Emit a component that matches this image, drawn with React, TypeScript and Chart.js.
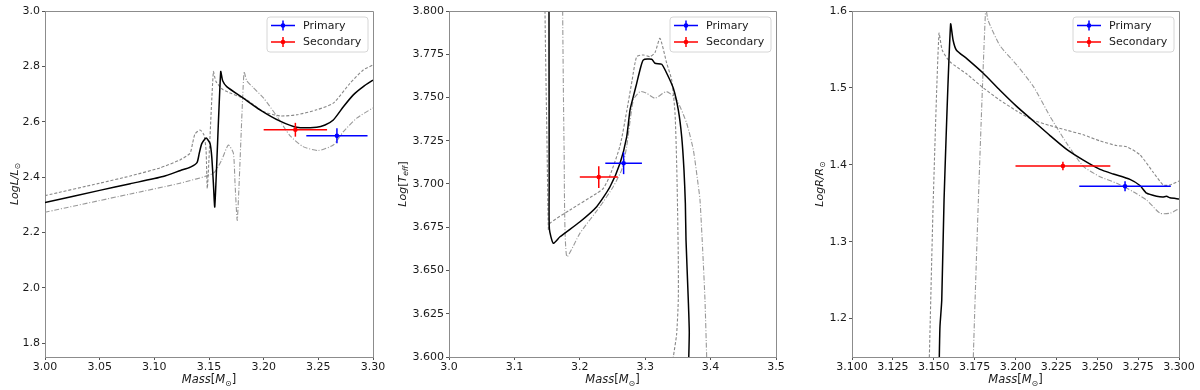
import React, { useEffect, useRef } from "react";
import { Chart, registerables } from "chart.js";

Chart.register(...registerables);

// ---------- observed stars ----------
const STAR_NAMES = ["Primary", "Secondary"];
const STAR_COLORS = ["#0000ff", "#ff0000"];
const STAR_MASS = [3.267, 3.229];
const STAR_MASS_ERR = [0.028, 0.029];
const STAR_LOGL = [2.549, 2.571];
const STAR_LOGL_ERR = [0.027, 0.025];
const STAR_LOGT = [3.712, 3.704];
const STAR_LOGT_ERR = [0.0063, 0.0063];
const STAR_LOGR = [1.372, 1.3985];
const STAR_LOGR_ERR = [0.0065, 0.0055];

// ---------- panel 1: log L ----------
const P1_SOLID_M = [3.0, 3.05, 3.078, 3.108, 3.124, 3.133, 3.139, 3.1411, 3.1433, 3.1473, 3.1509, 3.1525, 3.154, 3.1553, 3.1607, 3.1625, 3.1662, 3.1814, 3.1966, 3.215, 3.2302, 3.2485, 3.2561, 3.2637, 3.2729, 3.282, 3.2911, 3.3];
const P1_SOLID_L = [2.308, 2.352, 2.376, 2.402, 2.424, 2.436, 2.452, 2.486, 2.52, 2.541, 2.522, 2.474, 2.378, 2.293, 2.781, 2.748, 2.727, 2.685, 2.643, 2.602, 2.58, 2.58, 2.588, 2.606, 2.654, 2.697, 2.727, 2.75];
const P1_DASH_M = [3.0, 3.05, 3.078, 3.105, 3.1235, 3.1326, 3.135, 3.1372, 3.1418, 3.1454, 3.1473, 3.1485, 3.154, 3.1564, 3.1631, 3.1845, 3.1997, 3.215, 3.2302, 3.2485, 3.2637, 3.279, 3.2911, 3.3];
const P1_DASH_L = [2.333, 2.378, 2.404, 2.433, 2.462, 2.486, 2.522, 2.556, 2.57, 2.552, 2.498, 2.36, 2.781, 2.745, 2.715, 2.679, 2.637, 2.621, 2.625, 2.643, 2.667, 2.739, 2.787, 2.805];
const P1_DOT_M = [3.0, 3.078, 3.1235, 3.154, 3.1616, 3.1677, 3.1723, 3.1738, 3.1759, 3.182, 3.1845, 3.19, 3.2, 3.212, 3.224, 3.236, 3.25, 3.2637, 3.2729, 3.2851, 3.3];
const P1_DOT_L = [2.273, 2.339, 2.378, 2.414, 2.462, 2.516, 2.486, 2.378, 2.245, 2.781, 2.748, 2.725, 2.685, 2.62, 2.55, 2.51, 2.496, 2.516, 2.564, 2.613, 2.65];

// ---------- panel 2: log Teff ----------
const P2_SOLID_M = [3.1529, 3.1529, 3.1532, 3.1535, 3.1595, 3.1697, 3.2003, 3.2258, 3.2462, 3.2615, 3.2717, 3.2768, 3.2818, 3.287, 3.292, 3.2971, 3.31, 3.315, 3.3252, 3.3329, 3.343, 3.3506, 3.3558, 3.3593, 3.3614, 3.3624, 3.3659, 3.3674, 3.3659];
const P2_SOLID_T = [3.85, 3.8, 3.7, 3.674, 3.6657, 3.6695, 3.6782, 3.6869, 3.6984, 3.712, 3.7273, 3.7428, 3.7505, 3.7582, 3.7659, 3.7717, 3.7721, 3.7698, 3.7692, 3.764, 3.7553, 3.7428, 3.7273, 3.7081, 3.6888, 3.6676, 3.633, 3.614, 3.59];
const P2_DASH_M = [3.1468, 3.1468, 3.15, 3.152, 3.1544, 3.185, 3.2258, 3.236, 3.2462, 3.2615, 3.2717, 3.28, 3.287, 3.2971, 3.3073, 3.315, 3.3226, 3.3329, 3.3405, 3.3456, 3.3481, 3.3496, 3.3506, 3.3506, 3.348, 3.343, 3.34];
const P2_DASH_T = [3.85, 3.8, 3.72, 3.6734, 3.6773, 3.685, 3.6946, 3.6975, 3.705, 3.722, 3.742, 3.76, 3.7736, 3.7746, 3.7736, 3.776, 3.7842, 3.7698, 3.7601, 3.7409, 3.712, 3.6831, 3.656, 3.633, 3.613, 3.6, 3.59];
const P2_DOT_M = [3.1738, 3.1738, 3.176, 3.1799, 3.2003, 3.2309, 3.2513, 3.264, 3.2717, 3.2819, 3.2921, 3.3023, 3.315, 3.3328, 3.3481, 3.3634, 3.3736, 3.3813, 3.3838, 3.3879, 3.3914, 3.394, 3.395];
const P2_DOT_T = [3.85, 3.8, 3.72, 3.6581, 3.6716, 3.687, 3.6986, 3.7082, 3.7217, 3.7486, 3.7534, 3.7524, 3.7496, 3.7534, 3.7486, 3.7351, 3.7197, 3.6986, 3.6908, 3.6618, 3.633, 3.6, 3.59];

// ---------- panel 3: log R ----------
const P3_SOLID_M = [3.153, 3.1534, 3.1538, 3.1549, 3.1563, 3.1603, 3.1618, 3.1638, 3.1702, 3.1803, 3.1905, 3.2007, 3.2109, 3.2211, 3.2313, 3.2415, 3.2517, 3.2598, 3.27, 3.2761, 3.2802, 3.2863, 3.29, 3.2924, 3.2945, 3.3];
const P3_SOLID_R = [1.1, 1.15, 1.1894, 1.2241, 1.3542, 1.583, 1.5623, 1.5493, 1.538, 1.519, 1.497, 1.476, 1.457, 1.438, 1.42, 1.406, 1.394, 1.388, 1.381, 1.373, 1.363, 1.359, 1.358, 1.359, 1.357, 1.3555];
const P3_DASH_M = [3.1465, 3.1473, 3.1497, 3.1532, 3.1552, 3.1599, 3.1702, 3.1803, 3.1905, 3.2007, 3.2109, 3.2211, 3.2313, 3.2415, 3.2517, 3.2617, 3.268, 3.2761, 3.2843, 3.2904, 3.2945, 3.3];
const P3_DASH_R = [1.1, 1.15, 1.3542, 1.571, 1.549, 1.534, 1.518, 1.5, 1.484, 1.47, 1.458, 1.451, 1.445, 1.439, 1.431, 1.425, 1.4235, 1.413, 1.39, 1.3737, 1.3737, 1.379];
const P3_DOT_M = [3.1738, 3.1742, 3.1773, 3.1818, 3.1832, 3.1905, 3.2007, 3.2109, 3.2211, 3.2313, 3.2415, 3.2517, 3.2619, 3.272, 3.2802, 3.2884, 3.2945, 3.3];
const P3_DOT_R = [1.1, 1.15, 1.3542, 1.605, 1.588, 1.555, 1.53, 1.502, 1.463, 1.428, 1.398, 1.3845, 1.376, 1.365, 1.354, 1.337, 1.337, 1.343];

// ---------- ticks ----------
const P1_X_TICKS = [3.0, 3.05, 3.1, 3.15, 3.2, 3.25, 3.3];
const P1_Y_TICKS = [1.8, 2.0, 2.2, 2.4, 2.6, 2.8, 3.0];
const P2_X_TICKS = [3.0, 3.1, 3.2, 3.3, 3.4, 3.5];
const P2_Y_TICKS = [3.6, 3.625, 3.65, 3.675, 3.7, 3.725, 3.75, 3.775, 3.8];
const P3_X_TICKS = [3.1, 3.125, 3.15, 3.175, 3.2, 3.225, 3.25, 3.275, 3.3];
const P3_Y_TICKS = [1.2, 1.3, 1.4, 1.5, 1.6];

type Seg = { t: string; it?: boolean; sub?: boolean };

const X_LABEL: Seg[] = [{ t: "Mass", it: true }, { t: "[" }, { t: "M", it: true }, { t: "\u2299", sub: true }, { t: "]" }];
const P1_Y_LABEL: Seg[] = [{ t: "LogL/L", it: true }, { t: "\u2299", sub: true }];
const P2_Y_LABEL: Seg[] = [{ t: "Log", it: true }, { t: "[" }, { t: "T", it: true }, { t: "eff", it: true, sub: true }, { t: "]" }];
const P3_Y_LABEL: Seg[] = [{ t: "LogR/R", it: true }, { t: "\u2299", sub: true }];

const FONT = '"DejaVu Sans", sans-serif';

function drawSegs(ctx: CanvasRenderingContext2D, segs: Seg[], x: number, y: number, size: number) {
  const fontOf = (s: Seg) => `${s.it ? "italic " : ""}${s.sub ? size * 0.7 : size}px ${FONT}`;
  let total = 0;
  const widths = segs.map((s) => {
    ctx.font = fontOf(s);
    const w = ctx.measureText(s.t).width;
    total += w;
    return w;
  });
  let cx = x - total / 2;
  ctx.textAlign = "left";
  ctx.textBaseline = "alphabetic";
  segs.forEach((s, i) => {
    ctx.font = fontOf(s);
    ctx.fillText(s.t, cx, y + (s.sub ? size * 0.22 : 0));
    cx += widths[i];
  });
}

type PanelCfg = {
  left: number;
  width: number;
  yAxisW: number;
  rightPad: number;
  yTitleX: number;
  xMin: number;
  xMax: number;
  yMin: number;
  yMax: number;
  xTicks: number[];
  yTicks: number[];
  xDec: number;
  yDec: number;
  yLabel: Seg[];
  curves: { m: number[]; v: number[]; style: "solid" | "dash" | "dot" }[];
  starY: number[];
  starYErr: number[];
};

const PANELS: PanelCfg[] = [
  {
    left: 0, width: 390, yAxisW: 45, rightPad: 17, yTitleX: 18,
    xMin: 3.0, xMax: 3.3, yMin: 1.75, yMax: 3.0,
    xTicks: P1_X_TICKS, yTicks: P1_Y_TICKS, xDec: 2, yDec: 1, yLabel: P1_Y_LABEL,
    curves: [
      { m: P1_SOLID_M, v: P1_SOLID_L, style: "solid" },
      { m: P1_DASH_M, v: P1_DASH_L, style: "dash" },
      { m: P1_DOT_M, v: P1_DOT_L, style: "dot" },
    ],
    starY: STAR_LOGL, starYErr: STAR_LOGL_ERR,
  },
  {
    left: 390, width: 405, yAxisW: 59, rightPad: 19, yTitleX: 16,
    xMin: 3.0, xMax: 3.5, yMin: 3.6, yMax: 3.8,
    xTicks: P2_X_TICKS, yTicks: P2_Y_TICKS, xDec: 1, yDec: 3, yLabel: P2_Y_LABEL,
    curves: [
      { m: P2_SOLID_M, v: P2_SOLID_T, style: "solid" },
      { m: P2_DASH_M, v: P2_DASH_T, style: "dash" },
      { m: P2_DOT_M, v: P2_DOT_T, style: "dot" },
    ],
    starY: STAR_LOGT, starYErr: STAR_LOGT_ERR,
  },
  {
    left: 795, width: 405, yAxisW: 57, rightPad: 21, yTitleX: 28,
    xMin: 3.1, xMax: 3.3, yMin: 1.15, yMax: 1.6,
    xTicks: P3_X_TICKS, yTicks: P3_Y_TICKS, xDec: 3, yDec: 1, yLabel: P3_Y_LABEL,
    curves: [
      { m: P3_SOLID_M, v: P3_SOLID_R, style: "solid" },
      { m: P3_DASH_M, v: P3_DASH_R, style: "dash" },
      { m: P3_DOT_M, v: P3_DOT_R, style: "dot" },
    ],
    starY: STAR_LOGR, starYErr: STAR_LOGR_ERR,
  },
];

function Panel({ cfg }: { cfg: PanelCfg }) {
  const ref = useRef<HTMLCanvasElement | null>(null);
  useEffect(() => {
    if (!ref.current) return;
    const datasets: any[] = [];
    // error bars first so they are drawn on top
    STAR_NAMES.forEach((_, i) => {
      const m = STAR_MASS[i], me = STAR_MASS_ERR[i], y = cfg.starY[i], ye = cfg.starYErr[i];
      const c = STAR_COLORS[i];
      datasets.push({ data: [{ x: m, y }], showLine: false, pointRadius: 2.3, pointBackgroundColor: c, pointBorderWidth: 0 });
      datasets.push({ data: [{ x: m - me, y }, { x: m + me, y }], showLine: true, borderColor: c, borderWidth: 1.5, pointRadius: 0 });
      datasets.push({ data: [{ x: m, y: y - ye }, { x: m, y: y + ye }], showLine: true, borderColor: c, borderWidth: 1.5, pointRadius: 0 });
    });
    cfg.curves.forEach((cv) => {
      const style =
        cv.style === "solid"
          ? { borderColor: "#000000", borderWidth: 1.5, borderDash: [] }
          : cv.style === "dash"
          ? { borderColor: "#888888", borderWidth: 1.1, borderDash: [3, 1.8] }
          : { borderColor: "#999999", borderWidth: 1.1, borderDash: [5, 1.8, 1, 1.8] };
      datasets.push({
        data: cv.m.map((m, i) => ({ x: m, y: cv.v[i] })),
        showLine: true,
        pointRadius: 0,
        tension: 0.2,
        ...style,
      });
    });

    const decor = {
      id: "decor",
      afterDraw(chart: any) {
        const ctx = chart.ctx as CanvasRenderingContext2D;
        const a = chart.chartArea;
        ctx.save();
        // frame (top & right spines)
        ctx.strokeStyle = "#8c8c8c";
        ctx.lineWidth = 1;
        ctx.beginPath();
        ctx.moveTo(a.left, a.top + 0.5);
        ctx.lineTo(a.right + 0.5, a.top + 0.5);
        ctx.lineTo(a.right + 0.5, a.bottom);
        ctx.stroke();
        // axis titles
        ctx.fillStyle = "#1a1a1a";
        drawSegs(ctx, X_LABEL, (a.left + a.right) / 2, 383, 11.5);
        ctx.save();
        ctx.translate(cfg.yTitleX, (a.top + a.bottom) / 2);
        ctx.rotate(-Math.PI / 2);
        drawSegs(ctx, cfg.yLabel, 0, 0, 11);
        ctx.restore();
        // legend
        const bw = 101, bh = 35;
        const bx = a.right - 5 - bw, by = a.top + 6;
        ctx.beginPath();
        const r = 3;
        ctx.moveTo(bx + r, by);
        ctx.arcTo(bx + bw, by, bx + bw, by + bh, r);
        ctx.arcTo(bx + bw, by + bh, bx, by + bh, r);
        ctx.arcTo(bx, by + bh, bx, by, r);
        ctx.arcTo(bx, by, bx + bw, by, r);
        ctx.closePath();
        ctx.fillStyle = "rgba(255,255,255,0.8)";
        ctx.fill();
        ctx.strokeStyle = "#d6d6d6";
        ctx.stroke();
        STAR_NAMES.forEach((name, i) => {
          const cy = by + 8.5 + i * 16.5;
          const x0 = bx + 4, x1 = bx + 28, xc = (x0 + x1) / 2;
          ctx.strokeStyle = STAR_COLORS[i];
          ctx.lineWidth = 1.5;
          ctx.beginPath();
          ctx.moveTo(x0, cy);
          ctx.lineTo(x1, cy);
          ctx.moveTo(xc, cy - 5);
          ctx.lineTo(xc, cy + 5);
          ctx.stroke();
          ctx.fillStyle = STAR_COLORS[i];
          ctx.beginPath();
          ctx.arc(xc, cy, 2.3, 0, Math.PI * 2);
          ctx.fill();
          ctx.fillStyle = "#1a1a1a";
          ctx.font = `11px ${FONT}`;
          ctx.textAlign = "left";
          ctx.textBaseline = "middle";
          ctx.fillText(name, bx + 36, cy + 0.5);
        });
        ctx.restore();
      },
    };

    const tickFont = { family: FONT, size: 11 };
    const chart = new Chart(ref.current, {
      type: "scatter",
      data: { datasets },
      options: {
        animation: false,
        responsive: false,
        events: [],
        layout: { padding: { top: 11, right: cfg.rightPad, left: 0, bottom: 0 } },
        plugins: { legend: { display: false }, tooltip: { enabled: false } },
        scales: {
          x: {
            type: "linear",
            min: cfg.xMin,
            max: cfg.xMax,
            afterBuildTicks: (s: any) => {
              s.ticks = cfg.xTicks.map((v) => ({ value: v }));
            },
            afterFit: (s: any) => {
              s.height = 33;
            },
            ticks: {
              callback: (v: any) => Number(v).toFixed(cfg.xDec),
              font: tickFont,
              color: "#1a1a1a",
              padding: 1,
              maxRotation: 0,
              autoSkip: false,
            },
            grid: { display: true, drawOnChartArea: false, drawTicks: true, tickLength: 3, color: "#555" },
            border: { display: true, color: "#8c8c8c" },
          },
          y: {
            type: "linear",
            min: cfg.yMin,
            max: cfg.yMax,
            afterBuildTicks: (s: any) => {
              s.ticks = cfg.yTicks.map((v) => ({ value: v }));
            },
            afterFit: (s: any) => {
              s.width = cfg.yAxisW;
            },
            ticks: {
              callback: (v: any) => Number(v).toFixed(cfg.yDec),
              font: tickFont,
              color: "#1a1a1a",
              padding: 2,
              autoSkip: false,
            },
            grid: { display: true, drawOnChartArea: false, drawTicks: true, tickLength: 3, color: "#555" },
            border: { display: true, color: "#8c8c8c" },
          },
        },
      } as any,
      plugins: [decor],
    });
    return () => chart.destroy();
  }, [cfg]);
  return (
    <canvas
      ref={ref}
      width={cfg.width}
      height={390}
      style={{ position: "absolute", left: cfg.left, top: 0, width: cfg.width, height: 390 }}
    />
  );
}

export default function App() {
  return (
    <div style={{ position: "absolute", left: 0, top: 0, width: 1200, height: 390, background: "#fff", overflow: "hidden" }}>
      {PANELS.map((p, i) => (
        <Panel key={i} cfg={p} />
      ))}
    </div>
  );
}
